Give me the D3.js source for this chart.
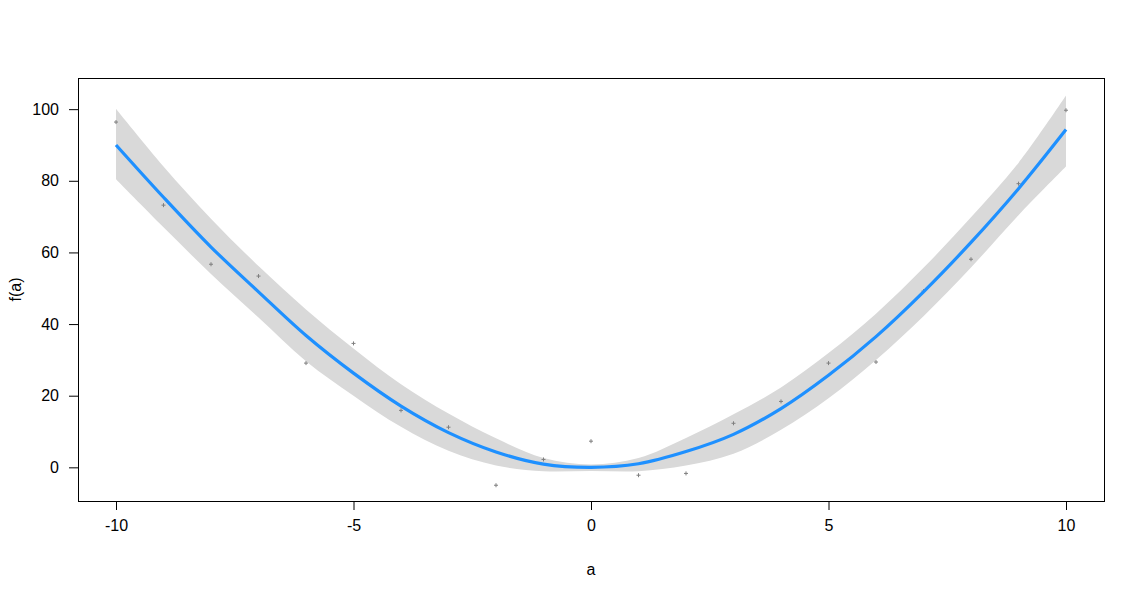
<!DOCTYPE html>
<html>
<head>
<meta charset="utf-8">
<script src="https://cdn.jsdelivr.net/npm/d3@7"></script>
<style>
  body { margin: 0; background: #fff; }
  svg { display: block; font-family: Arial, "Liberation Sans", sans-serif; }
  .axis text { font-size: 16px; fill: #000; }
  .axis path, .axis line { stroke: #000; }
</style>
</head>
<body>
<div id="chart"></div>
<script>
'use strict';

// observed points (a, f(a))
var pointA = [-10, -9, -8, -7, -6, -5, -4, -3, -2, -1, 0, 1, 2, 3, 4, 5, 6, 7, 8, 9, 10];
var pointY = [96.4, 73.2, 56.7, 53.4, 29.1, 34.6, 15.9, 11.2, -5.0, 2.2, 7.3, -2.2, -1.7, 12.3, 18.4, 29.1, 29.4, 49.2, 58.1, 79.2, 99.7];

// fitted curve and its confidence band, read at each integer a
var fitA     = [-10, -9, -8, -7, -6, -5, -4, -3, -2, -1, 0, 1, 2, 3, 4, 5, 6, 7, 8, 9, 10];
var fitY     = [90.0, 75.4, 61.5, 49.0, 36.8, 26.3, 17.1, 9.7, 4.3, 0.9, 0.0, 1.0, 4.4, 9.2, 16.4, 25.7, 36.5, 49.0, 62.8, 77.8, 94.3];
var fitUpper = [100.1, 84.0, 69.4, 56.2, 44.1, 33.2, 23.2, 15.0, 8.1, 2.6, 0.8, 2.6, 8.2, 14.8, 22.3, 31.9, 42.9, 55.7, 69.8, 85.0, 103.8];
var fitLower = [80.4, 67.0, 54.0, 41.8, 29.6, 20.0, 11.3, 4.6, 0.5, -1.1, -1.0, -1.1, 0.5, 3.8, 10.5, 19.3, 30.0, 42.2, 55.8, 70.4, 84.0];

var xTicks = [-10, -5, 0, 5, 10];
var yTicks = [0, 20, 40, 60, 80, 100];

var width   = 1146,
    height  = 599,
    margin  = {top: 78, right: 42, bottom: 98, left: 78},
    x       = d3.scaleLinear()
                .domain([-10.8, 10.8])
                .range([margin.left, width - margin.right]),
    y       = d3.scaleLinear()
                .domain([-9.4, 108.7])
                .range([height - margin.bottom, margin.top]);

var svg = d3.select('#chart').append('svg')
    .attr('width', width)
    .attr('height', height);

var fit = fitA.map(function(a, i) {
    return {a: a, y: fitY[i], hi: fitUpper[i], lo: fitLower[i]};
});

// confidence band
svg.append('path')
    .datum(fit)
    .attr('fill', '#d9d9d9')
    .attr('d', d3.area()
        .x(function(d) { return x(d.a); })
        .y0(function(d) { return y(d.lo); })
        .y1(function(d) { return y(d.hi); })
        .curve(d3.curveCatmullRom));

// points drawn as small "+"
svg.selectAll('.pt')
    .data(pointA)
    .enter().append('path')
    .attr('class', 'pt')
    .attr('transform', function(d, i) {
        return 'translate(' + x(d) + ',' + y(pointY[i]) + ')';
    })
    .attr('d', 'M-2,0H2M0,-2V2')
    .attr('stroke', '#7f7f7f')
    .attr('stroke-width', 1)
    .attr('fill', 'none');

// fitted line
svg.append('path')
    .datum(fit)
    .attr('fill', 'none')
    .attr('stroke', '#1e90ff')
    .attr('stroke-width', 3.2)
    .attr('d', d3.line()
        .x(function(d) { return x(d.a); })
        .y(function(d) { return y(d.y); })
        .curve(d3.curveCatmullRom));

// axes (plain hyphen for negatives, like the original)
var fmt = function(d) { return String(d); };

var xAxis = svg.append('g')
    .attr('class', 'axis')
    .attr('transform', 'translate(0,' + (height - margin.bottom) + ')')
    .call(d3.axisBottom(x).tickValues(xTicks).tickSize(9).tickPadding(10).tickFormat(fmt));
xAxis.select('.domain').remove();

var yAxis = svg.append('g')
    .attr('class', 'axis')
    .attr('transform', 'translate(' + margin.left + ',0)')
    .call(d3.axisLeft(y).tickValues(yTicks).tickSize(9).tickPadding(10).tickFormat(fmt));
yAxis.select('.domain').remove();

svg.selectAll('.axis text').attr('fill', '#000');

// plot box
svg.append('rect')
    .attr('x', margin.left + 0.5)
    .attr('y', margin.top + 0.5)
    .attr('width', width - margin.left - margin.right)
    .attr('height', height - margin.top - margin.bottom)
    .attr('fill', 'none')
    .attr('stroke', '#000')
    .attr('stroke-width', 1);

// axis titles
svg.append('text')
    .attr('x', (margin.left + width - margin.right) / 2)
    .attr('y', 575)
    .attr('text-anchor', 'middle')
    .style('font-size', '16px')
    .text('a');

svg.append('text')
    .attr('transform', 'translate(21,' + ((margin.top + height - margin.bottom) / 2) + ') rotate(-90)')
    .attr('text-anchor', 'middle')
    .style('font-size', '16px')
    .text('f(a)');
</script>
</body>
</html>
